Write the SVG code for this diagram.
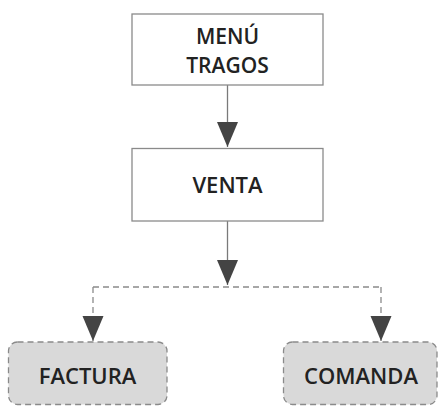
<svg xmlns="http://www.w3.org/2000/svg" width="438" height="406" viewBox="0 0 438 406">
<defs>
<style>
.box{fill:#ffffff;stroke:#8a8a8a;stroke-width:1.3}
.rbox{fill:#d9d9d9;stroke:#8a8a8a;stroke-width:1.3;stroke-dasharray:6 4}
.lbl{font-family:"Open Sans","Noto Sans",sans-serif;font-weight:600;font-size:22px;fill:#222;text-anchor:middle}
.sm{font-size:21px}
.ln{fill:none;stroke:#7a7a7a;stroke-width:1.3}
.dash{fill:none;stroke:#8a8a8a;stroke-width:1.3;stroke-dasharray:6 4}
</style>
<marker id="tri" markerUnits="userSpaceOnUse" markerWidth="26" markerHeight="22" refX="25" refY="10.5" orient="auto" viewBox="0 0 26 22">
<path d="M0,0 L25,10.5 L0,21 Z" fill="#444444"/>
</marker>
</defs>
<rect width="438" height="406" fill="#ffffff"/>
<g id="connectors">
<path class="ln" d="M227.5,85 V147" marker-end="url(#tri)"/>
<path class="ln" d="M227.5,221 V285" marker-end="url(#tri)"/>
<path class="dash" d="M93,287 H381"/>
<path class="dash" d="M93,287 V341" marker-end="url(#tri)"/>
<path class="dash" d="M381,287 V341" marker-end="url(#tri)"/>
</g>
<g id="menu-tragos">
<rect class="box" x="132" y="14" width="191" height="71"/>
<text class="lbl sm" x="227.5" y="44">MENÚ</text>
<text class="lbl sm" x="227.5" y="73">TRAGOS</text>
</g>
<g id="venta">
<rect class="box" x="132" y="148.5" width="191" height="72.5"/>
<text class="lbl" x="227.5" y="193">VENTA</text>
</g>
<g id="factura">
<rect class="rbox" x="8.5" y="342" width="158.5" height="62.5" rx="9"/>
<text class="lbl" x="87.5" y="384">FACTURA</text>
</g>
<g id="comanda">
<rect class="rbox" x="283.5" y="342" width="153.5" height="62.5" rx="9"/>
<text class="lbl" x="361" y="384">COMANDA</text>
</g>
</svg>
